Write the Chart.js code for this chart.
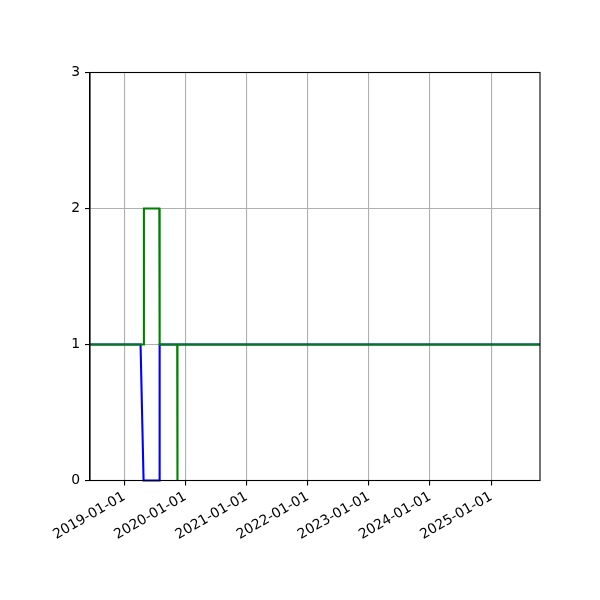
<!DOCTYPE html>
<html>
<head>
<meta charset="utf-8">
<script src="https://cdn.jsdelivr.net/npm/chart.js@4/dist/chart.umd.min.js"></script>
<style>
  html, body { margin: 0; padding: 0; background: #fff; }
</style>
</head>
<body>
<canvas id="chart" width="600" height="600"></canvas>
<script>
// x axis ticks and range (dates)
const tickLabels = ['2019-01-01', '2020-01-01', '2021-01-01', '2022-01-01', '2023-01-01', '2024-01-01', '2025-01-01'];
const xRange = ['2018-06-10', '2025-10-19'];
const yTicks = [0, 1, 2, 3];

// green series
const greenDates = ['2018-06-10', '2019-04-26', '2019-04-28', '2019-07-29', '2019-07-31', '2019-11-13', '2019-11-14', '2019-11-15', '2025-10-19'];
const greenValues = [1, 1, 2, 2, 1, 1, 0, 1, 1];

// blue series
const blueDates = ['2018-06-10', '2019-04-08', '2019-04-26', '2019-07-30', '2019-07-31', '2025-10-19'];
const blueValues = [1, 1, 0, 0, 1, 1];

function toPoints(dates, values) {
  return dates.map(function (d, i) { return { x: Date.parse(d), y: values[i] }; });
}

// draws the top and right spines like matplotlib
const boxPlugin = {
  id: 'box',
  afterDraw(chart) {
    const a = chart.chartArea;
    const ctx = chart.ctx;
    ctx.save();
    ctx.strokeStyle = '#000';
    ctx.lineWidth = 1.1;
    ctx.strokeRect(a.left, a.top, a.right - a.left, a.bottom - a.top);
    ctx.restore();
  }
};

Chart.defaults.font.family = 'DejaVu Sans';
Chart.defaults.font.size = 13.9;
Chart.defaults.color = '#000';

const ctx = document.getElementById('chart').getContext('2d');
new Chart(ctx, {
  type: 'line',
  data: {
    datasets: [{
      data: toPoints(greenDates, greenValues),
      borderColor: '#008000',
      borderWidth: 2.1,
      pointRadius: 0,
      fill: false,
      tension: 0,
      clip: 3
    }, {
      data: toPoints(blueDates, blueValues),
      borderColor: '#0000ff',
      borderWidth: 2.1,
      pointRadius: 0,
      fill: false,
      tension: 0,
      clip: 3
    }]
  },
  options: {
    responsive: false,
    animation: false,
    devicePixelRatio: 1,
    layout: { padding: { top: 72.5, right: 60, left: 0, bottom: 0 } },
    plugins: { legend: { display: false }, tooltip: { enabled: false } },
    scales: {
      x: {
        type: 'linear',
        min: Date.parse(xRange[0]),
        max: Date.parse(xRange[1]),
        afterBuildTicks: function (axis) {
          axis.ticks = tickLabels.map(function (t) { return { value: Date.parse(t) }; });
        },
        afterFit: function (axis) { axis.height = 119.5; },
        ticks: {
          autoSkip: false,
          maxRotation: 30,
          minRotation: 30,
          padding: 3,
          callback: function (value) {
            const i = tickLabels.findIndex(function (t) { return Date.parse(t) === value; });
            return i >= 0 ? tickLabels[i] : '';
          }
        },
        grid: { color: '#b0b0b0', lineWidth: 1.1, tickColor: '#000', tickLength: 5, drawTicks: true },
        border: { color: '#000', width: 1.1 }
      },
      y: {
        min: 0,
        max: 3,
        afterBuildTicks: function (axis) {
          axis.ticks = yTicks.map(function (v) { return { value: v }; });
        },
        afterFit: function (axis) { axis.width = 90; },
        ticks: { padding: 5 },
        grid: { color: '#b0b0b0', lineWidth: 1.1, tickColor: '#000', tickLength: 5 },
        border: { color: '#000', width: 1.1 }
      }
    }
  },
  plugins: [boxPlugin]
});
</script>
</body>
</html>
